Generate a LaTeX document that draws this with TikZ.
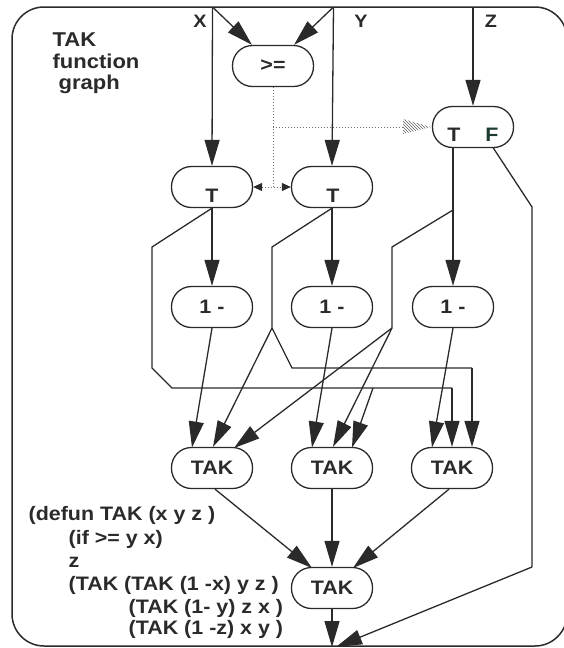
\documentclass[tikz,border=0pt]{standalone}
\usepackage{fontspec}
\setmainfont{Liberation Sans}[FakeStretch=1.1]
\usetikzlibrary{arrows.meta,patterns}
\definecolor{ink}{HTML}{2A2A2A}
\definecolor{fgreen}{HTML}{1C3C30}
\begin{document}
\begin{tikzpicture}[x=1pt,y=-1pt,line width=1.3pt,
  pill/.style={draw=ink,rounded corners=20pt,minimum width=81pt,minimum height=41pt,inner sep=0pt,
    font=\fontsize{19.5}{21}\selectfont\bfseries,text=ink},
  wire/.style={draw=ink},
  arr/.style={draw=ink,-{Triangle[length=26pt,width=15pt,fill=ink]}},
  dots/.style={draw=ink!70,dotted,line width=1pt},
  lbl/.style={font=\fontsize{18}{20}\selectfont\bfseries,text=ink,inner sep=0pt},
  code/.style={font=\fontsize{19.5}{21}\selectfont\bfseries,text=ink,inner sep=0pt,anchor=base west},
  ttl/.style={font=\fontsize{20}{22}\selectfont\bfseries,text=ink,inner sep=0pt,anchor=base west}]
\useasboundingbox (0,0) rectangle (564,648);
% frame
\draw[ink,line width=1.5pt,rounded corners=32pt] (12,7) rectangle (567,646);
% title
\node[ttl] (t1) at (52,46) {TAK};
\node[ttl] (t2) at (52,68) {function};
\node[ttl] (t3) at (58,89) {graph};
% input labels
\node[lbl] (lx) at (200,21) {X};
\node[lbl] (ly) at (361,21) {Y};
\node[lbl] (lz) at (491,21) {Z};
\coordinate (xin) at (212.5,7);
\coordinate (yin) at (333.5,7);
\coordinate (zin) at (473,7);
% nodes
\node[pill] (ge) at (273,66) {>=};
\node[pill] (tf) at (473,127) {};
\node[lbl,font=\fontsize{19.5}{21}\selectfont\bfseries] (tft) at (454,135) {T};
\node[lbl,font=\fontsize{19.5}{21}\selectfont\bfseries,text=fgreen] (tff) at (492,135) {F};
\node[pill] (tl) at (212,187) {};
\node[lbl,font=\fontsize{19.5}{21}\selectfont\bfseries] (tlt) at (212,196) {T};
\node[pill] (tm) at (332,187) {};
\node[lbl,font=\fontsize{19.5}{21}\selectfont\bfseries] (tmt) at (333,196) {T};
\node[pill] (ml) at (212,307) {1 -};
\node[pill] (mm) at (332,307) {1 -};
\node[pill] (mr) at (453,307) {1 -};
\node[pill] (kl) at (212,468) {TAK};
\node[pill] (km) at (332,468) {TAK};
\node[pill] (kr) at (452,468) {TAK};
\node[pill] (kb) at (332,588) {TAK};
% inputs
\draw[arr] (xin) -- (tl.north);
\draw[arr] (xin) -- ([xshift=-21pt]ge.north);
\draw[arr] (yin) -- (tm.north);
\draw[arr] (yin) -- ([xshift=21pt]ge.north);
\draw[arr] (zin) -- (tf.north);
% control (dotted)
\coordinate (dv) at (273,127);
\coordinate (dm) at (273,187);
\coordinate (hb) at (403,127);
\draw[dots] (ge.south) -- (dm);
\draw[dots] (dv) -- (hb);
\draw[draw=none,pattern=north west lines,pattern color=ink!75] (403,119) -- (431,127) -- (403,134) -- cycle;
\draw[dots,{Triangle[length=9pt,width=8pt,color=ink]}-{Triangle[length=9pt,width=8pt,color=ink]}] (tl.east) -- (tm.west);
% gates to decrements
\draw[arr] (tl.south) -- (ml.north);
\draw[arr] (tm.south) -- (mm.north);
\coordinate (tfts) at (453,147.5);
\draw[arr] (tfts) -- (mr.north);
% X routing
\coordinate (xa) at (152,247);
\coordinate (xb) at (152,368);
\coordinate (xc) at (172,388);
\coordinate (xd) at (373,388);
\coordinate (xe) at (452,388);
\draw[wire] (tl.south) -- (xa) -- (xb) -- (xc) -- (xe);
\draw[arr] (xe) -- (kr.north);
\draw[arr] (xd) -- (352,447.5);
% Y routing
\coordinate (ya) at (272,247);
\coordinate (yb) at (272,328);
\coordinate (yc) at (292,368);
\coordinate (yd) at (472,368);
\draw[wire] (tm.south) -- (ya) -- (yb) -- (yc) -- (yd);
\draw[arr] (yd) -- ([xshift=20pt]kr.north);
\draw[arr] (yb) -- ([xshift=1pt]kl.north);
% Z routing
\coordinate (za) at (453,210);
\coordinate (zb) at (392,247);
\coordinate (zc) at (392,328);
\draw[wire] (za) -- (zb) -- (zc);
\draw[arr] (zc) -- (234,448);
\draw[arr] (zc) -- ([xshift=1pt]km.north);
% decrements to TAKs
\draw[arr] (ml.south) -- (192,447.5);
\draw[arr] (mm.south) -- (312,447.5);
\draw[arr] (mr.south) -- (432,447.5);
% TAKs to final TAK
\draw[arr] ([xshift=3pt]kl.south) -- (312,568);
\draw[arr] (km.south) -- (kb.north);
\draw[arr] ([xshift=-3pt]kr.south) -- (353,568);
% F branch and output
\coordinate (fa) at (493,147.5);
\coordinate (fb) at (532,207);
\coordinate (fc) at (532,567);
\coordinate (out) at (332,647);
\draw[wire] (fa) -- (fb) -- (fc);
\draw[arr] (fc) -- (336,647);
\draw[arr] (kb.south) -- (out);
% code
\node[code] (c1) at (28,520) {(defun TAK (x y z )};
\node[code] (c2) at (68,544) {(if >= y x)};
\node[code] (c3) at (68,567) {z};
\node[code] (c4) at (68,590) {(TAK (TAK (1 -x) y z )};
\node[code] (c5) at (128,613) {(TAK (1- y) z x )};
\node[code] (c6) at (128,634) {(TAK (1 -z) x y )};
\end{tikzpicture}
\end{document}
